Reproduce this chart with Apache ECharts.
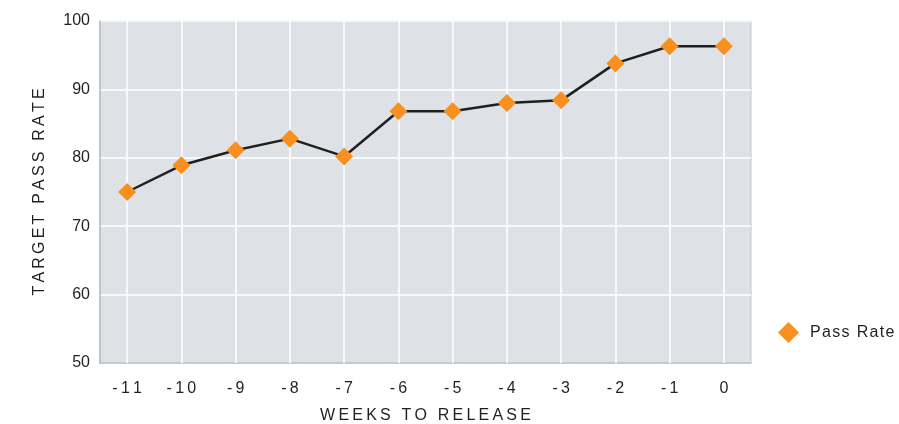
<!DOCTYPE html>
<html>
<head>
<meta charset="utf-8">
<script src="https://cdn.jsdelivr.net/npm/echarts@6/dist/echarts.min.js"></script>
<style>
  html, body { margin: 0; padding: 0; background: #fff; }
  #chart { width: 899px; height: 424px; }
</style>
</head>
<body>
<div id="chart"></div>
<script>
  // weeks before release and the pass rate reached each week
  var weeks = ['-11', '-10', '-9', '-8', '-7', '-6', '-5', '-4', '-3', '-2', '-1', '0'];
  var passRate = [75.0, 78.9, 81.1, 82.8, 80.2, 86.8, 86.8, 88.0, 88.4, 93.8, 96.3, 96.3];
  var yTicks = { min: 50, max: 100, step: 10 };

  var FONT = 'Liberation Sans';
  var INK = '#231f20';
  var THIN = '\u2009';
  function spaced(s) { return s.split('').join(THIN); }

  var chart = echarts.init(document.getElementById('chart'), null, { renderer: 'canvas' });
  chart.setOption({
    animation: false,
    textStyle: { fontFamily: FONT },
    grid: {
      left: 100, right: 148, top: 21, bottom: 61,
      outerBoundsMode: 'none',
      containLabel: false,
      show: true,
      backgroundColor: '#dee2e6',
      borderColor: '#c3c9cf',
      borderWidth: 1
    },
    legend: {
      left: 773, top: 317,
      icon: 'diamond',
      itemWidth: 21, itemHeight: 21,
      itemGap: 8,
      data: ['Pass Rate'],
      formatter: function (n) { return n.split('').join('\u200a'); },
      textStyle: { fontFamily: FONT, fontSize: 16, color: INK, padding: [0, 0, 0, 6] }
    },
    xAxis: {
      type: 'category',
      data: weeks,
      boundaryGap: true,
      name: spaced('WEEKS TO RELEASE'),
      nameLocation: 'middle',
      nameGap: 45,
      nameTextStyle: { fontFamily: FONT, fontSize: 16, color: INK },
      axisLine: { show: true, lineStyle: { color: '#b3bcc5', width: 1.5 } },
      axisTick: { show: false },
      splitLine: { show: false },
      axisLabel: {
        margin: 18, fontSize: 16, color: INK, fontFamily: FONT,
        formatter: function (v) { return spaced(v); }
      }
    },
    yAxis: {
      type: 'value',
      min: yTicks.min, max: yTicks.max, interval: yTicks.step,
      name: spaced('TARGET PASS RATE'),
      nameLocation: 'middle',
      nameGap: 52,
      nameTextStyle: { fontFamily: FONT, fontSize: 16, color: INK },
      axisLine: { show: true, lineStyle: { color: '#b3bcc5', width: 1.5 } },
      axisTick: { show: false },
      splitLine: { show: true, lineStyle: { color: '#ffffff', width: 1.5 } },
      axisLabel: { margin: 10, fontSize: 16, color: INK, fontFamily: FONT }
    },
    series: [
      {
        // vertical white gridlines at each week
        name: 'grid',
        type: 'line',
        data: [],
        z: 1,
        silent: true,
        markLine: {
          z: 1,
          silent: true,
          symbol: 'none',
          label: { show: false },
          lineStyle: { color: '#ffffff', width: 1.5, type: 'solid' },
          data: weeks.map(function (w) { return { xAxis: w }; })
        }
      },
      {
        name: 'Pass Rate',
        type: 'line',
        data: passRate,
        z: 3,
        symbol: 'diamond',
        symbolSize: 18,
        lineStyle: { color: INK, width: 2.5 },
        itemStyle: { color: '#f7901e' }
      }
    ]
  });
</script>
</body>
</html>
